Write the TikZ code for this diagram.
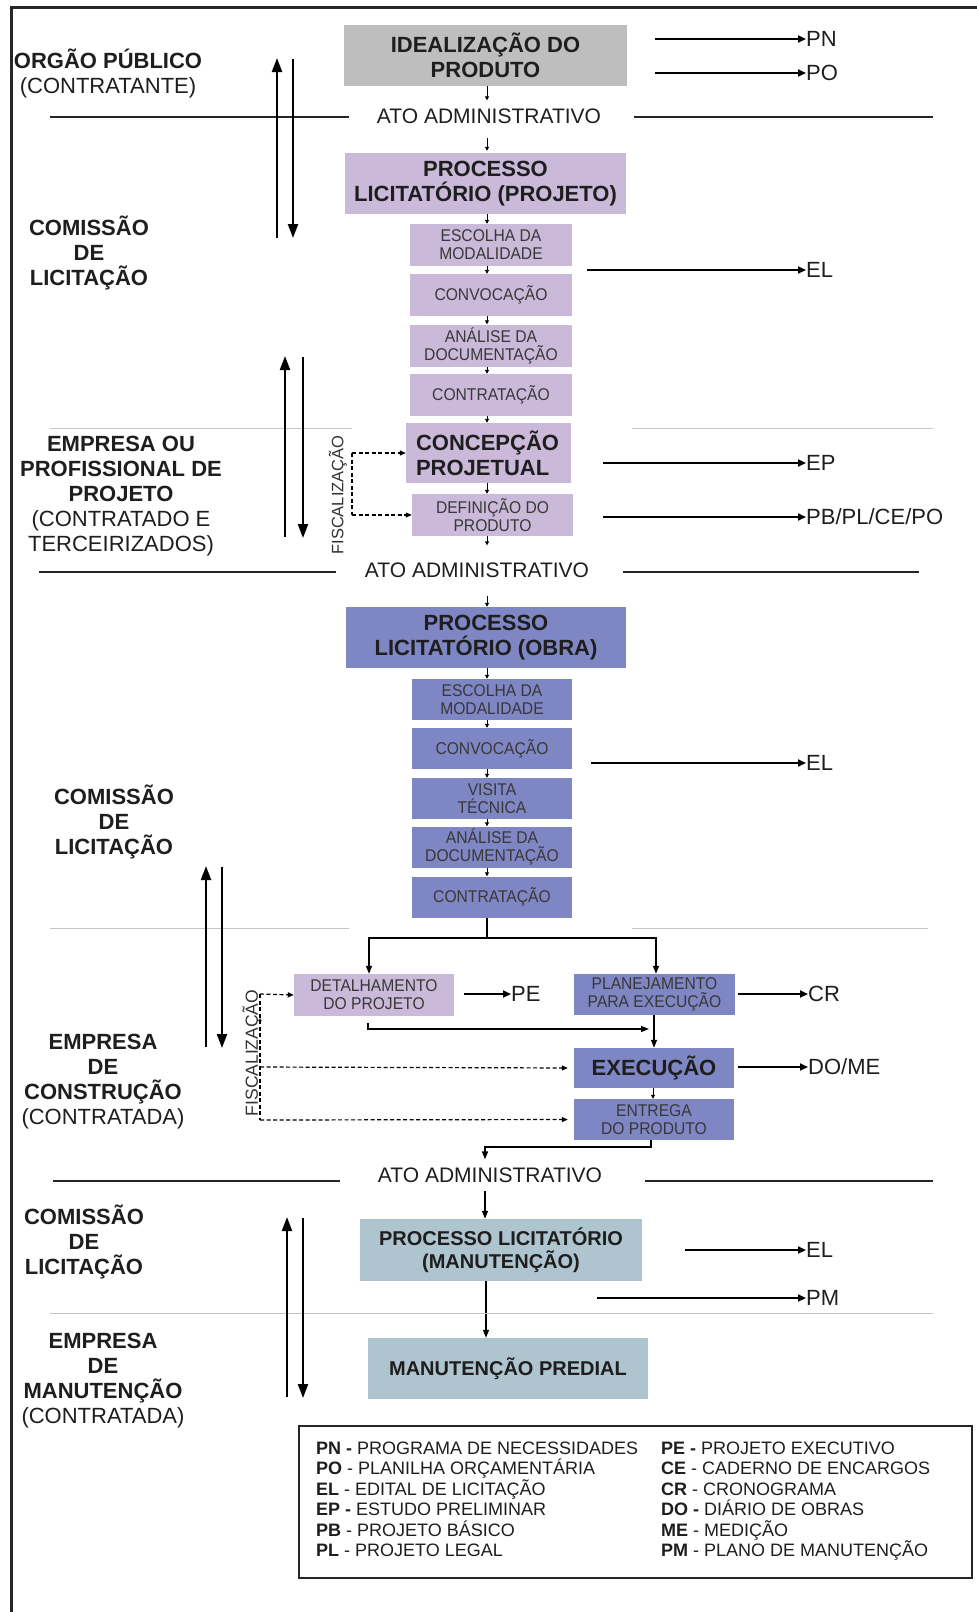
\documentclass[tikz,border=0pt]{standalone}
\usepackage{fontspec}
\setmainfont{Liberation Sans}
\newfontfamily\narrowfont[FakeStretch=0.92]{Liberation Sans}
\usetikzlibrary{arrows.meta,calc}
\definecolor{gbox}{HTML}{BEBEBE}
\definecolor{lpur}{HTML}{CBB9DA}
\definecolor{mblue}{HTML}{7E86C4}
\definecolor{steel}{HTML}{AEC4CF}
\definecolor{sepg}{HTML}{C4C4C4}
\definecolor{txt}{HTML}{1E1E1E}
\definecolor{frm}{HTML}{262626}
\begin{document}
\begin{tikzpicture}[x=1pt,y=-1pt,
  box/.style={inner sep=0pt, align=center, text=txt},
  sz/.style n args={2}{minimum width=#1pt, minimum height=#2pt},
  big/.style={font=\fontsize{22}{25}\selectfont\bfseries},
  mid/.style={font=\fontsize{20}{23}\selectfont\bfseries},
  small/.style={font=\narrowfont\fontsize{17}{18}\selectfont, text=black!78},
  atotext/.style={inner xsep=0pt, inner ysep=8pt, font=\fontsize{21}{24}\selectfont, text=txt},
  atoline/.style={line width=2.4pt, draw=frm},
  sepline/.style={line width=0.8pt, draw=sepg},
  lbl/.style={align=center, inner sep=0pt, font=\fontsize{22}{25}\selectfont, text=txt},
  outlbl/.style={anchor=west, inner sep=0pt, font=\fontsize{22}{25}\selectfont, text=txt},
  outarrow/.style={line width=1.8pt, -{Triangle[length=8pt,width=7pt]}},
  bigarr/.style={line width=2.2pt, -{Triangle[length=14pt,width=10pt]}},
  flowarr/.style={line width=1.5pt, -{Triangle[length=8pt,width=6pt]}},
  tinyarr/.style={line width=0.9pt, -{Triangle[length=4pt,width=4pt]}},
  dasharr/.style={line width=1.2pt, dash pattern=on 4pt off 2.5pt, -{Triangle[length=6pt,width=5pt]}},
  fisc/.style={rotate=90, inner sep=0pt, font=\fontsize{16.5}{18}\selectfont, text=black!80},
  legtxt/.style={anchor=base west, inner sep=0pt, font=\fontsize{18}{20}\selectfont, text=txt}
]
\useasboundingbox (0,0) rectangle (977,1612);
\fill[white] (0,0) rectangle (977,1612);
% frame (top and left edges only)
\draw[line width=3pt, draw=frm] (11,1612) -- (11,7) -- (977,7);

\coordinate (cx) at (487,0);

% ---------- Orgao publico ----------
\node[box, fill=gbox, sz={283}{61}, big] (idea) at (485.5,55.5) {IDEALIZAÇÃO DO\\PRODUTO};
\node[lbl] (org) at (108,73) {\textbf{ORGÃO PÚBLICO}\\(CONTRATANTE)};
\coordinate (sPN) at (655,39);
\node[outlbl] (lPN) at (806,39) {PN};
\draw[outarrow] (sPN) -- (lPN.west);
\coordinate (sPO) at (655,73);
\node[outlbl] (lPO) at (806,73) {PO};
\draw[outarrow] (sPO) -- (lPO.west);

\node[atotext] (ato1) at (489,116) {ATO ADMINISTRATIVO};
\draw[atoline] (50,117) -- (349,117) (634,117) -- (933,117);

\coordinate (u1a) at (277,238); \coordinate (u1b) at (277,58);
\coordinate (d1a) at (293,59);  \coordinate (d1b) at (293,238);
\draw[bigarr] (u1a) -- (u1b);
\draw[bigarr] (d1a) -- (d1b);

% ---------- Processo licitatorio (projeto) ----------
\node[box, fill=lpur, sz={281}{61}, big] (procP) at (485.5,183.5) {PROCESSO\\LICITATÓRIO (PROJETO)};
\node[box, fill=lpur, sz={162}{42}, small] (escP) at (491,245) {ESCOLHA DA\\MODALIDADE};
\node[box, fill=lpur, sz={162}{42}, small] (convP) at (491,295) {CONVOCAÇÃO};
\node[box, fill=lpur, sz={162}{42}, small] (anaP) at (491,345.5) {ANÁLISE DA\\DOCUMENTAÇÃO};
\node[box, fill=lpur, sz={162}{42}, small] (contP) at (491,395) {CONTRATAÇÃO};
\node[lbl] (com1) at (89,253) {\textbf{COMISSÃO}\\\textbf{DE}\\\textbf{LICITAÇÃO}};
\coordinate (sEL1) at (587,270);
\node[outlbl] (lEL1) at (806,270) {EL};
\draw[outarrow] (sEL1) -- (lEL1.west);

\draw[sepline] (50,428) -- (352,428) (632,428) -- (933,428);

% ---------- Empresa de projeto ----------
\node[box, fill=lpur, sz={165}{60}, big, text width=145pt, align=left] (concP) at (488.5,453) {CONCEPÇÃO\\PROJETUAL};
\node[box, fill=lpur, sz={161}{42}, small] (defP) at (492.5,515) {DEFINIÇÃO DO\\PRODUTO};
\node[lbl] (emp1) at (121,496) {\textbf{EMPRESA OU}\\\textbf{PROFISSIONAL DE}\\\textbf{PROJETO}\\(CONTRATADO E\\TERCEIRIZADOS)};
\coordinate (sEP) at (603,463);
\node[outlbl] (lEP) at (806,463) {EP};
\draw[outarrow] (sEP) -- (lEP.west);
\coordinate (sPB) at (603,517);
\node[outlbl] (lPB) at (806,517) {PB/PL/CE/PO};
\draw[outarrow] (sPB) -- (lPB.west);

\coordinate (u2a) at (285,537); \coordinate (u2b) at (285,356);
\coordinate (d2a) at (303,357); \coordinate (d2b) at (303,538);
\draw[bigarr] (u2a) -- (u2b);
\draw[bigarr] (d2a) -- (d2b);

\node[fisc] (fis1) at (338,495) {FISCALIZAÇÃO};
\coordinate (f1a) at (352,453);
\coordinate (f1b) at (352,515);
\draw[line width=1.2pt, dash pattern=on 4pt off 2.5pt] (f1a) -- (f1b);
\draw[dasharr] (f1a) -- (concP.west);
\draw[dasharr] (f1b) -- (defP.west);

\node[atotext] (ato2) at (477,570) {ATO ADMINISTRATIVO};
\draw[atoline] (39,572) -- (336,572) (623,572) -- (919,572);

% ---------- Processo licitatorio (obra) ----------
\node[box, fill=mblue, sz={280}{61}, big] (procO) at (486,637.5) {PROCESSO\\LICITATÓRIO (OBRA)};
\node[box, fill=mblue, sz={160}{41}, small] (escO) at (492,699.5) {ESCOLHA DA\\MODALIDADE};
\node[box, fill=mblue, sz={160}{41}, small] (convO) at (492,748.5) {CONVOCAÇÃO};
\node[box, fill=mblue, sz={160}{41}, small] (visO) at (492,798.5) {VISITA\\TÉCNICA};
\node[box, fill=mblue, sz={160}{41}, small] (anaO) at (492,847) {ANÁLISE DA\\DOCUMENTAÇÃO};
\node[box, fill=mblue, sz={160}{41}, small] (contO) at (492,897) {CONTRATAÇÃO};
\node[lbl] (com2) at (114,822) {\textbf{COMISSÃO}\\\textbf{DE}\\\textbf{LICITAÇÃO}};
\coordinate (sEL2) at (591,763);
\node[outlbl] (lEL2) at (806,763) {EL};
\draw[outarrow] (sEL2) -- (lEL2.west);

\draw[sepline] (50,928) -- (349,928) (632,928) -- (928,928);

\coordinate (u3a) at (206,1047); \coordinate (u3b) at (206,866);
\coordinate (d3a) at (222,867);  \coordinate (d3b) at (222,1048);
\draw[bigarr] (u3a) -- (u3b);
\draw[bigarr] (d3a) -- (d3b);

% ---------- Empresa de construcao ----------
\node[box, fill=lpur, sz={160}{42}, small] (detal) at (374,995) {DETALHAMENTO\\DO PROJETO};
\node[box, fill=mblue, sz={161}{41}, small] (plan) at (654.5,994.5) {PLANEJAMENTO\\PARA EXECUÇÃO};
\node[box, fill=mblue, sz={160}{40}, big] (exec) at (654,1068) {EXECUÇÃO};
\node[box, fill=mblue, sz={160}{41}, small] (entr) at (654,1119.5) {ENTREGA\\DO PRODUTO};
\node[lbl] (emp2) at (103,1081.5) {\textbf{EMPRESA}\\\textbf{DE}\\\textbf{CONSTRUÇÃO}\\(CONTRATADA)};

\coordinate (j1) at (487,938);
\draw[line width=1.5pt] (contO.south -| j1) -- (j1);
\draw[flowarr] (j1) -| (detal.north -| 369,0);
\draw[flowarr] (j1) -| (plan.north -| 656,0);

\coordinate (sPE) at (464,994);
\node[outlbl] (lPE) at (511,994) {PE};
\draw[outarrow] (sPE) -- (lPE.west);
\coordinate (sCR) at (738,994);
\node[outlbl] (lCR) at (808,994) {CR};
\draw[outarrow] (sCR) -- (lCR.west);
\coordinate (sDO) at (738,1067);
\node[outlbl] (lDO) at (808,1067) {DO/ME};
\draw[outarrow] (sDO) -- (lDO.west);

\coordinate (dt1) at (368,1023);
\coordinate (dt2) at (649,1029);
\draw[flowarr] (dt1) |- (dt2);
\draw[flowarr] (plan.south -| 654,0) -- (exec.north -| 654,0);
\draw[tinyarr] (exec.south -| 653,0) -- (entr.north -| 653,0);

\node[fisc, font=\fontsize{17.5}{19}\selectfont] (fis2) at (252,1053) {FISCALIZAÇÃO};
\coordinate (f2a) at (260,994);
\coordinate (f2b) at (260,1067);
\coordinate (f2c) at (260,1120);
\draw[line width=1.2pt, dash pattern=on 4pt off 2.5pt] (f2a) -- (f2c);
\draw[dasharr] (f2a) -- (detal.west);
\draw[dasharr, shorten >=6pt] (f2b) -- (exec.west);
\draw[dasharr, shorten >=6pt] (f2c) -- (entr.west);

\node[atotext] (ato3) at (490,1175) {ATO ADMINISTRATIVO};
\draw[atoline] (53,1181) -- (340,1181) (645,1181) -- (933,1181);
\coordinate (e1) at (651,1147);
\draw[flowarr] (entr.south -| e1) -- (e1) -| (ato3.north -| 485,0);

% ---------- Manutencao ----------
\node[box, fill=steel, sz={282}{62}, mid] (procM) at (501,1250) {PROCESSO LICITATÓRIO\\(MANUTENÇÃO)};
\node[box, fill=steel, sz={280}{61}, mid] (manut) at (508,1368.5) {MANUTENÇÃO PREDIAL};
\draw[flowarr] (ato3.south -| 485,0) -- (procM.north -| 485,0);
\draw[flowarr] (procM.south -| 486,0) -- (manut.north -| 486,0);
\node[lbl] (com3) at (84,1242) {\textbf{COMISSÃO}\\\textbf{DE}\\\textbf{LICITAÇÃO}};
\node[lbl] (emp3) at (103,1381) {\textbf{EMPRESA}\\\textbf{DE}\\\textbf{MANUTENÇÃO}\\(CONTRATADA)};
\coordinate (sEL3) at (685,1250);
\node[outlbl] (lEL3) at (806,1250) {EL};
\draw[outarrow] (sEL3) -- (lEL3.west);
\coordinate (sPM) at (597,1298);
\node[outlbl] (lPM) at (806,1298) {PM};
\draw[outarrow] (sPM) -- (lPM.west);

\draw[sepline] (50,1313) -- (933,1313);

\coordinate (u4a) at (287,1397); \coordinate (u4b) at (287,1217);
\coordinate (d4a) at (303,1218); \coordinate (d4b) at (303,1398);
\draw[bigarr] (u4a) -- (u4b);
\draw[bigarr] (d4a) -- (d4b);

% ---------- tiny arrows in the main column ----------
\draw[tinyarr] (idea.south -| cx) -- (ato1.north -| cx);
\draw[tinyarr, shorten <=6pt, shorten >=2pt] (ato1.south -| cx) -- (procP.north -| cx);
\draw[tinyarr] (procP.south -| cx) -- (escP.north -| cx);
\draw[tinyarr] (escP.south -| cx) -- (convP.north -| cx);
\draw[tinyarr] (convP.south -| cx) -- (anaP.north -| cx);
\draw[tinyarr] (anaP.south -| cx) -- (contP.north -| cx);
\draw[tinyarr] (contP.south -| cx) -- (concP.north -| cx);
\draw[tinyarr] (concP.south -| cx) -- (defP.north -| cx);
\draw[tinyarr, shorten >=9pt] (defP.south -| cx) -- (ato2.north -| cx);
\draw[tinyarr, shorten <=10pt] (ato2.south -| cx) -- (procO.north -| cx);
\draw[tinyarr] (procO.south -| cx) -- (escO.north -| cx);
\draw[tinyarr] (escO.south -| cx) -- (convO.north -| cx);
\draw[tinyarr] (convO.south -| cx) -- (visO.north -| cx);
\draw[tinyarr] (visO.south -| cx) -- (anaO.north -| cx);
\draw[tinyarr] (anaO.south -| cx) -- (contO.north -| cx);

% ---------- legend ----------
\node[draw=frm, line width=2pt, minimum width=673pt, minimum height=152pt, inner sep=0pt] (leg) at (635.5,1502) {};
\node[legtxt] (L1) at (316,1454.5) {\textbf{PN -} PROGRAMA DE NECESSIDADES};
\node[legtxt] (L2) at (316,1474.5) {\textbf{PO} - PLANILHA ORÇAMENTÁRIA};
\node[legtxt] (L3) at (316,1495.5) {\textbf{EL} - EDITAL DE LICITAÇÃO};
\node[legtxt] (L4) at (316,1515.5) {\textbf{EP -} ESTUDO PRELIMINAR};
\node[legtxt] (L5) at (316,1536.5) {\textbf{PB} - PROJETO BÁSICO};
\node[legtxt] (L6) at (316,1556.5) {\textbf{PL} - PROJETO LEGAL};
\node[legtxt] (R1) at (661,1454.5) {\textbf{PE -} PROJETO EXECUTIVO};
\node[legtxt] (R2) at (661,1474.5) {\textbf{CE} - CADERNO DE ENCARGOS};
\node[legtxt] (R3) at (661,1495.5) {\textbf{CR} - CRONOGRAMA};
\node[legtxt] (R4) at (661,1515.5) {\textbf{DO -} DIÁRIO DE OBRAS};
\node[legtxt] (R5) at (661,1536.5) {\textbf{ME} - MEDIÇÃO};
\node[legtxt] (R6) at (661,1556.5) {\textbf{PM} - PLANO DE MANUTENÇÃO};
\end{tikzpicture}
\end{document}
